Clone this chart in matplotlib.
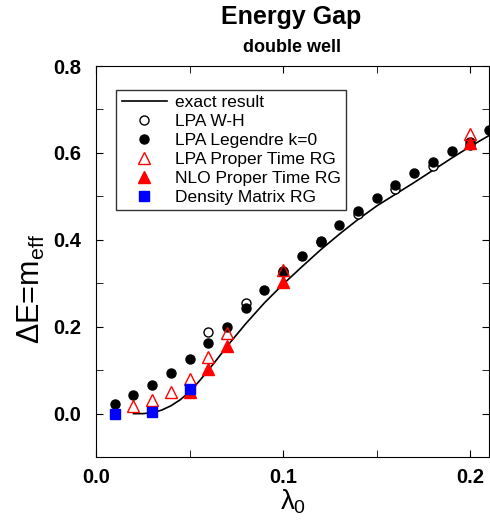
import matplotlib
matplotlib.use("Agg")
import matplotlib.pyplot as plt
from matplotlib.ticker import MultipleLocator, FormatStrFormatter
from matplotlib.legend_handler import HandlerLine2D

# ---------------------------------------------------------------------------
# Data
# ---------------------------------------------------------------------------
exact_x = [0.020, 0.025, 0.030, 0.035, 0.040, 0.045, 0.050, 0.055, 0.060, 0.065,
           0.070, 0.080, 0.090, 0.100, 0.110, 0.120, 0.130, 0.140, 0.150, 0.160,
           0.170, 0.180, 0.190, 0.200, 0.210]
exact_y = [0.000, 0.000, 0.002, 0.008, 0.018, 0.032, 0.050, 0.074, 0.100, 0.127,
           0.155, 0.207, 0.255, 0.298, 0.338, 0.377, 0.413, 0.447, 0.478, 0.505,
           0.532, 0.560, 0.588, 0.615, 0.640]

wh_x = [0.06, 0.08, 0.10, 0.12, 0.14, 0.16, 0.18, 0.20]
wh_y = [0.188, 0.255, 0.327, 0.394, 0.459, 0.517, 0.570, 0.618]

leg_x = [0.01, 0.02, 0.03, 0.04, 0.05, 0.06, 0.07, 0.08, 0.09, 0.10, 0.11,
         0.12, 0.13, 0.14, 0.15, 0.16, 0.17, 0.18, 0.19, 0.20, 0.21]
leg_y = [0.023, 0.043, 0.066, 0.094, 0.125, 0.162, 0.200, 0.244, 0.285, 0.329,
         0.363, 0.398, 0.434, 0.467, 0.497, 0.526, 0.553, 0.580, 0.605, 0.626, 0.652]

lpa_pt_x = [0.02, 0.03, 0.04, 0.05, 0.06, 0.07, 0.10, 0.20]
lpa_pt_y = [0.018, 0.032, 0.049, 0.080, 0.130, 0.185, 0.330, 0.644]

nlo_pt_x = [0.05, 0.06, 0.07, 0.10, 0.20]
nlo_pt_y = [0.049, 0.103, 0.155, 0.302, 0.622]

dmrg_x = [0.01, 0.03, 0.05]
dmrg_y = [0.000, 0.003, 0.057]


# marker sits at the right end of the handle box, like the original legend
class RightMarker(HandlerLine2D):
    def get_xdata(self, legend, xdescent, ydescent, width, height, fontsize):
        xdata, _ = super().get_xdata(legend, xdescent, ydescent, width,
                                     height, fontsize)
        return xdata, [-xdescent + width - 0.3 * fontsize]


# ---------------------------------------------------------------------------
# Figure
# ---------------------------------------------------------------------------
plt.rcParams["font.family"] = ["Liberation Sans", "DejaVu Sans"]
plt.rcParams["mathtext.fontset"] = "custom"
plt.rcParams["mathtext.rm"] = "Liberation Sans"
plt.rcParams["mathtext.it"] = "Liberation Sans"

fig = plt.figure(figsize=(4.9, 5.2), dpi=100)
ax = fig.add_axes([0.196, 0.121, 0.802, 0.752])

ax.plot(exact_x, exact_y, color="black", lw=1.2, label="exact result")
ax.plot(wh_x, wh_y, "o", ms=6.5, mfc="white", mec="black", mew=1.0,
        label="LPA W-H")
ax.plot(leg_x, leg_y, "o", ms=6.5, mfc="black", mec="black",
        label="LPA Legendre k=0")
ax.plot(lpa_pt_x, lpa_pt_y, "^", ms=8, mfc="none", mec="red", mew=1.0,
        label="LPA Proper Time RG")
ax.plot(nlo_pt_x, nlo_pt_y, "^", ms=8, mfc="red", mec="red",
        label="NLO Proper Time RG")
ax.plot(dmrg_x, dmrg_y, "s", ms=6.5, mfc="blue", mec="blue",
        label="Density Matrix RG")

ax.set_xlim(0.0, 0.21)
ax.set_ylim(-0.1, 0.8)
ax.xaxis.set_major_locator(MultipleLocator(0.1))
ax.xaxis.set_minor_locator(MultipleLocator(0.05))
ax.yaxis.set_major_locator(MultipleLocator(0.2))
ax.yaxis.set_minor_locator(MultipleLocator(0.1))
ax.xaxis.set_major_formatter(FormatStrFormatter("%.1f"))
ax.yaxis.set_major_formatter(FormatStrFormatter("%.1f"))
ax.tick_params(which="both", direction="in", top=True, right=True,
               labelsize=14.5, length=5)
ax.tick_params(axis="y", pad=11)
ax.tick_params(axis="x", pad=8)
for lab in ax.get_xticklabels() + ax.get_yticklabels():
    lab.set_fontweight("bold")

ax.set_xlabel(r"$\lambda_0$", fontsize=20, labelpad=0)
ax.set_ylabel(r"$\Delta$E=m$_{\rm eff}$", fontsize=22)
ax.yaxis.set_label_coords(-0.125, 0.43)

fig.text(0.595, 0.968, "Energy Gap", ha="center", va="center",
         fontsize=18, fontweight="bold")
fig.text(0.595, 0.909, "double well", ha="center", va="center",
         fontsize=13, fontweight="bold")

handles, labels = ax.get_legend_handles_labels()
hmap = {h: RightMarker(numpoints=1) for h in handles[1:]}
leg = ax.legend(handles, labels, loc="upper left",
                bbox_to_anchor=(0.052, 0.94), fontsize=12.5,
                frameon=True, fancybox=False, edgecolor="black",
                handlelength=2.6, handletextpad=0.45, labelspacing=0.22,
                borderpad=0.3, borderaxespad=0, handler_map=hmap)
leg.get_frame().set_linewidth(1.0)

fig.savefig("out.png", dpi=100)
